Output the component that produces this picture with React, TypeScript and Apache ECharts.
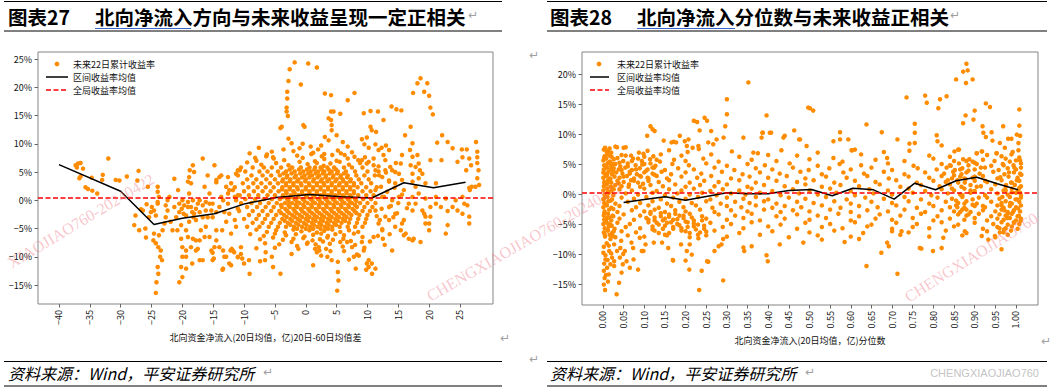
import React, { useEffect, useRef } from "react";
import * as echarts from "echarts";

const FONT = '"Noto Sans CJK SC", "Noto Sans", sans-serif';
const MINUS = "\u2212";

// ---------------- 图表27 ----------------
const leftTitleNo = "图表27";
const leftTitle = "北向净流入方向与未来收益呈现一定正相关";
const leftXName = "北向资金净流入(20日均值，亿)20日-60日均值差";
const leftXTicks = [-40, -35, -30, -25, -20, -15, -10, -5, 0, 5, 10, 15, 20, 25];
const leftYTicks = [-15, -10, -5, 0, 5, 10, 15, 20, 25];
const leftMeanX = [-40, -30, -24.6, -20, -14.8, -9.8, -4.8, 0.6, 5.8, 10.7, 15.9, 20.7, 25.9];
const leftMeanY = [6.3, 1.6, -4.3, -3.2, -2.4, -0.6, 0.5, 1.0, 0.6, 0.4, 3.1, 2.2, 3.2];
const leftGlobalMean = 0.4;

// sparse points, far left part
const leftEdgePts = [
  [-37.3, 6.2], [-36.9, 6.5], [-36.5, 6.6], [-36.1, 5.6], [-37.1, 5.8], [-36.7, 3.9], [-36.5, 4.2], [-35.7, 2.3],
  [-35.3, 2.0], [-34.6, 1.7], [-34.7, 4.0], [-33.8, 1.2], [-32.9, 4.5], [-33.0, 3.6], [-32.0, 7.4], [-30.8, 3.6],
  [-30.2, 3.5], [-29.0, 4.2],
  [-27.1, 5.2], [-27.3, 3.5], [-25.6, 2.4], [-24.0, 2.4], [-24.0, 1.5], [-24.0, -0.3], [-26.4, -1.8], [-25.8, -0.7],
  [-22.4, 0.0], [-22.1, 0.6], [-21.3, 3.8], [-20.7, 1.8],
  [-27.8, -4.4], [-27.6, -2.7], [-27.0, -5.3], [-26.7, -1.6], [-26.0, -5.0], [-25.9, -6.6], [-25.4, -3.0], [-25.1, -2.1],
  [-24.95, -1.2], [-24.6, -1.8], [-24.3, -2.7], [-24.0, -0.6], [-23.8, 0.6], [-23.8, -6.2], [-24.3, -7.6], [-23.9, -8.3],
  [-23.5, -8.9], [-23.6, -10.0], [-23.3, -10.6], [-24.0, -11.8], [-23.9, -13.0], [-24.2, -14.5], [-24.3, -16.4], [-23.2, -5.3],
  [-22.9, -4.1], [-22.7, -3.0], [-22.4, -1.8], [-22.7, -0.9], [-21.9, -3.8], [-21.6, -5.3], [-21.3, -1.2], [-21.0, -3.0],
  [-20.8, -5.3], [-20.5, -2.1], [-20.2, -4.4], [-20.2, -6.8], [-20.0, 0.0], [-20.0, -8.3], [-19.7, -0.9], [-19.4, -2.7],
  [-19.4, -5.3], [-19.4, -8.9], [-19.4, -12.1], [-19.1, -1.2], [-18.9, 1.2], [-18.9, 4.1], [-18.8, 5.3], [-18.3, 6.2],
  [-18.1, 5.0], [-18.6, 3.0], [-19.1, 3.3], [-18.3, 0.0], [-18.1, -2.4], [-17.8, -3.5], [-17.8, -7.1], [-17.5, -8.6],
  [-17.2, -10.6], [-17.0, -5.3], [-16.7, -3.0], [-16.7, 7.4], [-16.4, 2.4], [-16.2, -1.8], [-15.9, 4.4], [-15.6, 1.2],
  [-15.6, -6.5], [-15.3, -8.9], [-15.1, -3.0], [-15.1, -10.6], [-14.8, 6.2], [-14.5, 3.6], [-14.0, 4.1], [-13.7, 0.6],
  [-13.55, -5.3], [-13.4, -12.1], [-13.2, -10.0], [-12.9, 2.4], [-12.6, -0.6], [-12.4, -2.4], [-12.1, 3.0], [-12.1, -11.5],
  [-11.8, -8.9], [-11.5, 0.6], [-11.3, 4.7], [-11.0, -10.0], [-10.7, 5.3],
  [-20.5, -0.6], [-20.1, -1.5], [-19.8, -2.4], [-19.1, -0.3], [-18.6, -1.2], [-18.4, -2.1], [-18.2, -3.0], [-18.9, -3.8],
  [-17.8, -1.5], [-17.5, -0.6], [-17.2, 0.0], [-17.2, -2.1], [-16.7, -0.9], [-16.2, -0.3], [-15.6, -0.6], [-15.9, -3.0],
  [-15.3, -1.8], [-15.1, -0.6], [-14.5, -2.1], [-14.0, -1.2], [-13.4, 0.0], [-13.2, -2.1], [-12.6, 1.2], [-12.4, 1.8],
  [-11.8, 1.8], [-11.3, 0.0], [-11.0, -1.5], [-10.7, 0.9], [-16.2, -4.7], [-16.4, -6.5], [-17.2, -7.1], [-17.8, -8.9],
  [-18.6, -8.3], [-19.4, -10.0], [-20.0, -10.0], [-20.2, -11.8], [-20.5, -14.5], [-20.0, -13.6], [-19.1, -6.5], [-18.3, -6.8],
  [-14.5, -5.3], [-14.0, -8.3], [-13.4, -8.9], [-12.9, -10.0], [-12.1, -5.9], [-11.5, -3.5], [-11.3, -4.7], [-12.9, -3.8],
  [-14.8, -8.3], [-14.5, -7.1], [-24.6, -5.9], [-24.7, -7.1],
  [-13.5, -12.3], [-12.2, -8.9], [-11.6, -9.2], [-12.4, -11.2], [-10.5, -8.3], [-10.3, -10.3], [-9.2, -10.6],
  [-16.7, -10.6], [-18.4, -11.2], [-15.1, -9.3], [-14.9, -10.3],
];

// dense core: each row is [y, x1, x2, ...]
const leftCoreRows = [
  [5.8, -10.5, -8.6, -6.8, -5.5, -4.0, -2.2, -0.8, 0.6, 1.5, 2.4, 3.5, 4.6, 6.2, 7.5, 9.2],
  [5.1, -9.8, -7.5, -6.2, -4.5, -3.2, -1.8, -0.4, 0.8, 2.0, 3.0, 4.2, 5.2, 6.5, 8.0, 10.0, 11.8],
  [4.4, -11.0, -8.8, -7.0, -5.6, -4.2, -3.0, -1.6, -0.2, 1.0, 2.2, 3.3, 4.5, 5.7, 6.8, 8.2, 9.5, 11.2],
  [3.7, -9.5, -8.0, -6.4, -5.0, -3.7, -2.5, -1.2, 0.0, 1.3, 2.6, 3.8, 5.0, 6.0, 7.3, 8.6, 10.2],
  [3.0, -10.2, -8.5, -7.2, -5.8, -4.5, -3.2, -2.0, -0.8, 0.5, 1.8, 2.9, 4.2, 5.5, 6.6, 7.8, 9.0, 10.6],
  [2.3, -11.5, -9.3, -7.8, -6.5, -5.2, -3.8, -2.6, -1.4, 0.0, 1.2, 2.4, 3.6, 4.8, 6.0, 7.2, 8.4, 9.8, 11.5],
  [1.6, -10.0, -8.4, -7.0, -5.7, -4.4, -3.2, -2.0, -0.6, 0.6, 1.8, 3.0, 4.2, 5.4, 6.6, 7.8, 9.2, 10.5],
  [0.9, -11.0, -9.2, -7.7, -6.2, -5.0, -3.7, -2.4, -1.2, 0.0, 1.2, 2.4, 3.6, 4.8, 6.0, 7.2, 8.5, 9.8, 11.0],
  [0.2, -9.8, -8.2, -6.8, -5.5, -4.2, -3.0, -1.8, -0.5, 0.8, 2.0, 3.2, 4.4, 5.6, 6.8, 8.0, 9.3, 10.6],
  [-0.5, -10.5, -8.8, -7.4, -6.0, -4.7, -3.4, -2.2, -1.0, 0.3, 1.5, 2.7, 3.9, 5.1, 6.3, 7.5, 8.8, 10.0, 11.3],
  [-1.2, -9.5, -7.9, -6.5, -5.2, -3.9, -2.6, -1.4, -0.2, 1.0, 2.2, 3.4, 4.6, 5.8, 7.0, 8.3, 9.5, 10.8],
  [-1.9, -10.8, -8.6, -7.0, -5.6, -4.3, -3.0, -1.8, -0.6, 0.6, 1.8, 3.0, 4.2, 5.4, 6.6, 7.9, 9.2, 10.4],
  [-2.6, -9.2, -7.6, -6.2, -4.8, -3.5, -2.2, -1.0, 0.2, 1.4, 2.6, 3.8, 5.0, 6.2, 7.4, 8.7, 10.0],
  [-3.3, -10.0, -8.0, -6.6, -5.2, -3.8, -2.5, -1.3, 0.0, 1.2, 2.4, 3.6, 4.8, 6.0, 7.2, 8.5, 9.8],
  [-4.0, -8.6, -7.0, -5.6, -4.2, -2.9, -1.6, -0.3, 1.0, 2.2, 3.4, 4.6, 5.8, 7.0, 8.3, 9.6],
  [-4.7, -9.5, -7.5, -6.0, -4.5, -3.2, -1.9, -0.6, 0.7, 1.9, 3.1, 4.3, 5.5, 6.8, 8.0, 9.2],
  [5.45, -2.6, -1.1, 0.2, 1.4, 2.6, 3.7, 4.9],
  [4.75, -3.6, -2.3, -0.9, 0.4, 1.6, 2.8, 3.9, 5.1, 6.2],
  [4.05, -3.1, -1.8, -0.6, 0.6, 1.9, 3.2, 4.4, 5.6, 6.7],
  [3.35, -3.8, -2.6, -1.4, -0.1, 1.2, 2.4, 3.5, 4.8, 6.1, 7.2],
  [2.65, -3.2, -2.0, -0.7, 0.6, 1.8, 3.0, 4.2, 5.4, 6.6, 7.8],
  [1.95, -3.8, -2.6, -1.3, 0.0, 1.2, 2.4, 3.6, 4.8, 6.0, 7.2],
  [1.25, -3.1, -1.8, -0.6, 0.6, 1.8, 3.0, 4.2, 5.4, 6.6, 7.8],
  [0.55, -3.6, -2.4, -1.2, 0.2, 1.4, 2.6, 3.8, 5.0, 6.2, 7.4],
  [-0.15, -2.8, -1.5, -0.2, 1.1, 2.3, 3.5, 4.7, 5.9, 7.1, 8.2],
  [-0.85, -4.0, -2.8, -1.6, -0.4, 0.9, 2.1, 3.3, 4.5, 5.7, 6.9, 8.0],
  [-1.55, -3.3, -2.0, -0.8, 0.4, 1.6, 2.8, 4.0, 5.2, 6.4, 7.6],
  [-2.25, -4.0, -2.7, -1.5, -0.2, 1.0, 2.2, 3.4, 4.6, 5.8, 7.0, 8.2],
  [-2.95, -3.1, -1.8, -0.6, 0.6, 1.8, 3.0, 4.2, 5.4, 6.6],
  [-3.65, -3.4, -2.2, -0.9, 0.4, 1.6, 2.8, 4.0, 5.2, 6.4],
  [-4.35, -2.5, -1.2, 0.1, 1.3, 2.5, 3.7, 4.9],
  [-5.05, -1.4, 0.0, 1.2, 2.4, 3.6],
];

const leftCoreEdgePts = [
  [-8.0, 7.0], [-5.2, 7.4], [-3.5, 7.1], [-0.5, 7.5], [1.5, 6.9], [3.0, 7.3], [5.0, 7.0], [6.8, 7.4], [8.5, 7.1], [10.2, 6.8],
  [-9.5, 6.7], [-7.2, 6.3], [-4.8, 6.6], [-2.8, 6.2], [-1.0, 6.8], [0.3, 6.4], [1.8, 6.6], [2.9, 6.1], [4.0, 6.5], [5.5, 6.8],
  [7.0, 6.3], [8.8, 6.6], [11.0, 6.2],
  [-8.0, -5.2], [-6.3, -5.6], [-4.8, -5.3], [-3.4, -5.7], [-2.0, -5.2], [-0.7, -5.5], [0.6, -5.3], [1.8, -5.7], [3.0, -5.4],
  [4.3, -5.2], [5.6, -5.6], [7.0, -5.3], [8.5, -5.6],
  [-9.0, -6.0], [-6.8, -6.3], [-5.0, -5.9], [-3.2, -6.2], [-1.6, -6.0], [-0.2, -6.4], [1.2, -6.1], [2.5, -5.9], [3.6, -6.3],
  [4.8, -6.0], [6.2, -6.2], [7.8, -5.9],
  [-6.3, 8.1], [-1.4, 7.9], [0.9, 8.2], [2.6, 7.8], [4.3, 8.0], [5.7, 8.3], [7.9, 7.7], [-8.2, 7.5], [9.6, 7.6],
  [-7.4, -6.9], [-5.3, -6.6], [-3.7, -7.0], [-2.0, -6.8], [-0.4, -6.7], [1.1, -7.1], [2.3, -6.9], [3.5, -6.6],
  [4.4, -7.0], [6.1, -6.8], [7.3, -7.2], [9.2, -6.5], [10.4, -7.3],
  [-6.6, -7.6], [-4.3, -7.8], [-2.3, -7.4], [0.3, -7.5], [1.6, -7.8], [2.8, -7.3], [3.9, -7.7], [5.6, -7.4], [8.0, -7.9],
  [-5.0, -8.4], [-1.4, -8.1], [2.1, -8.3], [3.3, -8.6], [6.0, -8.2], [9.5, -8.4],
];

const leftUpperPts = [
  [-1.8, 24.4], [0.4, 24.2], [1.8, 23.5], [-2.6, 23.2], [-2.8, 21.1], [-0.8, 20.5], [-3.0, 19.2], [-3.0, 18.0],
  [-3.1, 16.4], [-3.1, 15.7], [-2.9, 14.9], [-4.1, 12.8], [-2.8, 10.9], [-2.3, 10.1], [-3.6, 9.0], [-0.2, 13.0],
  [-3.9, 13.0], [-0.4, 13.3], [2.5, 9.7], [3.7, 10.6], [3.1, 18.9], [4.1, 18.6], [6.8, 17.7], [7.9, 19.0],
  [4.1, 15.7], [4.5, 15.7], [5.6, 15.3], [3.7, 14.5], [4.1, 14.2], [4.2, 13.3], [4.2, 12.4], [3.1, 11.2],
  [5.0, 11.5], [6.0, 10.3], [6.8, 9.5], [2.0, 9.0], [0.8, 9.5], [-1.0, 9.2], [-5.5, 8.6], [7.5, 8.5],
  [-7.6, 9.3], [-6.4, 7.8], [-5.3, 7.6], [-9.1, 8.3], [1.2, 8.4], [-0.5, 10.0], [-2.0, 8.7], [3.0, 8.2],
  [5.2, 8.8], [6.3, 8.0], [-11.0, 5.3], [-12.6, 4.1], [-13.7, 4.4], [-14.5, 3.2],
];

const leftRightPts = [
  [9.4, 15.4], [10.5, 15.8], [11.7, 15.7], [12.6, 14.2], [13.9, 16.6], [14.7, 16.1], [15.5, 15.9], [10.5, 13.0],
  [11.4, 12.1], [10.7, 12.4], [9.9, 11.1], [9.1, 10.8], [9.5, 9.9], [10.2, 9.3], [11.3, 9.9], [12.3, 9.3],
  [13.0, 9.7], [13.5, 8.9], [12.6, 8.0], [11.8, 8.9], [9.1, 7.1], [9.9, 6.5], [11.0, 7.4], [13.7, 5.9],
  [14.5, 5.0], [15.4, 6.5], [16.1, 11.5], [17.0, 13.0], [17.3, 10.1], [16.9, 8.9], [17.3, 7.7], [18.1, 8.0],
  [18.3, 6.5], [17.8, 5.9], [18.5, 5.3], [17.0, 6.2], [15.6, 8.0], [17.4, 19.0], [18.1, 20.7], [18.6, 21.6],
  [19.2, 19.2], [19.7, 20.7], [20.0, 18.5], [20.2, 16.4], [20.6, 15.2], [22.1, 11.5], [21.3, 10.2], [23.0, 10.3],
  [23.8, 9.2], [25.3, 9.0], [26.1, 9.0], [27.6, 10.3], [27.8, 8.6], [27.8, 7.6], [27.8, 6.6], [28.0, 5.3],
  [27.8, 3.9], [28.1, 2.7], [27.5, 2.4], [26.9, 2.4], [20.2, 7.1], [22.0, 7.1], [24.6, 6.8], [25.4, 7.6],
  [26.5, 7.4], [26.8, 6.2], [26.0, 5.3], [26.5, 2.2], [26.6, 1.8], [25.7, -0.6], [26.2, -0.9], [26.5, -2.9],
  [26.5, -4.1], [25.4, -2.4], [24.6, -1.8], [23.8, -1.2], [23.0, -1.9], [23.0, -4.4], [22.7, -5.9], [21.9, -1.2],
  [21.1, -0.6], [20.2, -1.2], [20.2, -2.9], [20.0, -4.1], [19.4, -2.9], [18.9, -1.8], [17.8, -0.6], [17.3, -1.8],
  [16.7, -0.6], [15.6, -4.1], [15.9, -6.2], [16.7, -6.8], [17.3, -7.1], [17.5, -6.8], [18.6, -7.4], [19.4, -4.1],
  [20.0, -5.3], [19.2, -2.4], [12.8, -7.9], [14.0, -8.9], [15.1, 0.6], [15.9, 1.8], [17.3, 0.6], [18.3, 1.2],
  [19.4, 0.3], [21.1, 0.6], [22.7, 0.3], [24.3, 0.0], [25.4, 0.6], [13.5, -1.2], [14.5, -2.4], [13.5, -3.5],
  [14.5, -4.7], [12.4, -5.3], [12.9, -2.9], [14.0, 0.0], [13.5, 3.3], [14.5, 3.0], [15.6, 3.6], [17.3, 3.3],
  [18.3, 3.9], [17.8, 2.4], [19.4, 3.0], [21.1, 3.0], [12.9, 5.3], [17.3, 4.7], [18.9, 4.7], [11.3, 5.3],
  [12.4, 4.1], [11.3, 1.8], [12.4, 0.6], [11.3, -1.8], [11.8, -4.1], [11.0, -6.5], [10.2, -10.6], [10.7, -11.2],
  [11.3, -12.1], [9.8, -12.3], [8.1, -12.1], [7.8, -10.0], [8.3, -9.6], [9.4, -8.9], [9.1, -7.4], [7.5, -8.3],
  [6.7, -7.4],
  [11.8, 6.0], [12.9, 7.1], [14.0, 5.3], [15.1, 4.7], [13.5, 3.5], [12.2, 2.4], [12.7, 0.6], [13.8, -1.0],
  [14.8, -2.3], [15.9, -3.5], [15.4, -5.3], [16.2, -5.9], [12.0, -3.5], [12.4, -5.1], [11.5, -2.8], [12.3, -1.5],
  [13.2, 1.5], [14.4, 2.2], [15.6, 1.0], [16.4, -1.4], [11.9, 4.4], [13.0, 4.9], [14.6, 6.6], [12.5, -6.8],
  [13.6, -6.0], [11.7, -6.3], [14.2, -3.0], [15.0, -0.5],
];

const leftLowerPts = [
  [5.2, -10.9], [5.2, -12.7], [5.3, -14.2], [5.1, -16.0], [4.2, -10.6], [1.2, -11.5], [1.8, -9.2], [2.2, -8.9],
  [1.5, -8.6], [-4.1, -13.0], [-9.1, -13.0], [-7.4, -10.8], [-5.5, -10.0], [-2.3, -9.5], [-1.2, -8.6], [0.2, -7.7],
  [-6.5, -9.2], [-8.0, -8.5], [-10.5, -9.5], [-10.0, -11.2], [-11.0, -10.1], [-12.0, -8.6], [-5.3, -11.8], [-6.6, -10.6],
  [3.5, -10.0], [4.0, -9.0], [2.5, -9.8], [6.2, -9.0], [7.0, -10.5], [8.6, -9.8], [9.9, -11.2], [10.2, -11.8],
  [10.75, -13.0],
];

// ---------------- 图表28 ----------------
const rightTitleNo = "图表28";
const rightTitle = "北向净流入分位数与未来收益正相关";
const rightXName = "北向资金净流入(20日均值，亿)分位数";
const rightXTicks = [0, 0.05, 0.1, 0.15, 0.2, 0.25, 0.3, 0.35, 0.4, 0.45, 0.5, 0.55, 0.6, 0.65, 0.7, 0.75, 0.8, 0.85, 0.9, 0.95, 1.0];
const rightYTicks = [-15, -10, -5, 0, 5, 10, 15, 20];
const rightMeanX = [0.05, 0.1, 0.15, 0.2, 0.25, 0.3, 0.35, 0.4, 0.45, 0.505, 0.555, 0.605, 0.655, 0.705, 0.755, 0.805, 0.855, 0.905, 0.955, 1.005];
const rightMeanY = [-1.4, -0.9, -0.45, -1.05, -0.4, 0.2, 0.05, 0.05, 0.6, 0.75, -0.3, 0.95, 0.7, -0.85, 1.8, 0.7, 2.2, 2.8, 1.7, 0.7];
const rightGlobalMean = 0.25;

const rightBandPts = [
  [.002, 7.4], [.009, 7.0], [.016, 7.6], [.034, 7.8], [.055, 7.8], [.087, 6.9], [.108, 7.2], [.16, 7.3], [.205, 7.0], [.232, 7.5],
  [.312, 7.1], [.375, 6.8], [.432, 7.3], [.52, 6.9], [.603, 7.3], [.68, 7.0], [.742, 7.2], [.862, 7.4], [.905, 6.8], [.918, 7.1],
  [.953, 6.8], [.973, 7.7], [.992, 7.0], [1.006, 7.3],
  [.004, 6.3], [.012, 6.6], [.021, 6.2], [.045, 6.5], [.068, 6.4], [.098, 6.7], [.122, 6.3], [.14, 6.6], [.19, 6.4], [.262, 6.6],
  [.33, 6.2], [.4, 6.5], [.47, 6.4], [.558, 6.0], [.625, 6.6], [.688, 6.0], [.79, 6.4], [.84, 6.2], [.887, 5.8], [.93, 6.5],
  [.965, 6.3], [.989, 6.6], [1.008, 6.1],
  [.001, 5.6], [.008, 5.9], [.017, 5.4], [.026, 5.8], [.049, 5.5], [.073, 5.9], [.094, 5.5], [.114, 5.8], [.138, 5.4], [.172, 5.7],
  [.2, 5.5], [.243, 5.9], [.28, 5.4], [.36, 5.7], [.42, 5.5], [.5, 5.8], [.58, 5.4], [.66, 5.7], [.73, 5.5], [.8, 5.9],
  [.85, 5.5], [.872, 5.8], [.895, 5.4], [.92, 5.7], [.948, 5.5], [.975, 5.9], [.985, 5.4], [1.01, 5.6],
  [.003, 4.8], [.011, 5.1], [.019, 4.7], [.03, 5.0], [.042, 4.6], [.06, 5.1], [.079, 4.8], [.1, 5.0], [.127, 4.7], [.168, 5.0],
  [.208, 4.8], [.25, 5.1], [.3, 4.7], [.35, 5.0], [.392, 4.8], [.452, 5.1], [.52, 4.7], [.573, 5.0], [.625, 4.8], [.69, 5.1],
  [.752, 4.7], [.82, 5.0], [.842, 4.7], [.862, 5.1], [.885, 4.8], [.905, 5.0], [.94, 4.7], [.968, 5.0], [.994, 4.8], [1.012, 5.1],
  [.002, 4.1], [.01, 4.4], [.018, 4.0], [.026, 4.3], [.038, 4.1], [.054, 4.4], [.07, 4.0], [.089, 4.3], [.108, 4.1], [.124, 4.4],
  [.15, 4.0], [.182, 4.3], [.22, 4.1], [.27, 4.4], [.318, 4.0], [.37, 4.3], [.41, 4.1], [.46, 4.4], [.498, 4.0], [.548, 4.3],
  [.6, 4.1], [.65, 4.4], [.7, 4.0], [.762, 4.3], [.808, 4.1], [.832, 4.4], [.852, 4.0], [.87, 4.3], [.9, 4.1], [.925, 4.4],
  [.958, 4.0], [.98, 4.3], [1.0, 4.1], [1.012, 4.4],
  [.004, 3.4], [.013, 3.7], [.022, 3.3], [.032, 3.6], [.047, 3.4], [.065, 3.7], [.082, 3.3], [.1, 3.6], [.12, 3.4], [.142, 3.7],
  [.165, 3.3], [.2, 3.6], [.238, 3.4], [.288, 3.7], [.338, 3.3], [.38, 3.6], [.428, 3.4], [.478, 3.7], [.53, 3.3], [.582, 3.6],
  [.632, 3.4], [.68, 3.7], [.73, 3.3], [.78, 3.6], [.826, 3.4], [.848, 3.7], [.868, 3.3], [.88, 3.6], [.912, 3.4], [.945, 3.7],
  [.972, 3.3], [.995, 3.6], [1.01, 3.4],
  [.001, 2.7], [.008, 3.0], [.016, 2.6], [.028, 2.9], [.04, 2.7], [.058, 3.0], [.075, 2.6], [.092, 2.9], [.108, 2.7], [.13, 3.0],
  [.155, 2.6], [.19, 2.9], [.228, 2.7], [.262, 3.0], [.31, 2.6], [.355, 2.9], [.4, 2.7], [.445, 3.0], [.49, 2.6], [.54, 2.9],
  [.59, 2.7], [.64, 3.0], [.692, 2.6], [.74, 2.9], [.79, 2.7], [.82, 3.0], [.845, 2.6], [.865, 2.9], [.878, 2.5], [.895, 2.7],
  [.92, 3.0], [.955, 2.6], [.982, 2.9], [1.004, 2.7],
  [.003, 2.0], [.012, 2.3], [.02, 1.9], [.035, 2.2], [.05, 2.0], [.068, 2.3], [.085, 1.9], [.11, 2.2], [.135, 2.0], [.16, 2.3],
  [.21, 1.9], [.245, 2.2], [.28, 2.0], [.33, 2.3], [.37, 1.9], [.42, 2.2], [.47, 2.0], [.51, 2.3], [.56, 1.9], [.61, 2.2],
  [.66, 2.0], [.71, 2.3], [.76, 1.9], [.8, 2.2], [.83, 2.0], [.858, 2.3], [.876, 1.9], [.9, 2.2], [.93, 2.0], [.965, 2.3],
  [.99, 1.9], [1.008, 2.2],
  [.002, 1.3], [.009, 1.6], [.018, 1.2], [.03, 1.5], [.045, 1.3], [.063, 1.6], [.09, 1.2], [.115, 1.5], [.145, 1.3], [.175, 1.6],
  [.2, 1.2], [.235, 1.5], [.27, 1.3], [.3, 1.6], [.35, 1.2], [.39, 1.5], [.44, 1.3], [.49, 1.6], [.53, 1.2], [.575, 1.5],
  [.62, 1.3], [.67, 1.6], [.72, 1.2], [.77, 1.5], [.815, 1.3], [.84, 1.6], [.868, 1.2], [.89, 1.5], [.915, 1.3], [.95, 1.6],
  [.975, 1.2], [.997, 1.5], [1.012, 1.3],
  [.001, 0.6], [.01, 0.9], [.02, 0.5], [.04, 0.8], [.07, 0.6], [.1, 0.9], [.13, 0.5], [.16, 0.8], [.19, 0.6], [.22, 0.9],
  [.26, 0.5], [.29, 0.8], [.33, 0.6], [.36, 0.9], [.41, 0.5], [.46, 0.8], [.5, 0.6], [.55, 0.9], [.6, 0.5], [.645, 0.8],
  [.69, 0.6], [.74, 0.9], [.78, 0.5], [.82, 0.8], [.85, 0.6], [.875, 0.9], [.9, 0.5], [.94, 0.8], [.97, 0.6], [.99, 0.9],
  [1.005, 0.5],
  [.004, -0.1], [.014, 0.2], [.025, -0.2], [.055, 0.1], [.085, -0.1], [.12, 0.2], [.15, -0.2], [.18, 0.1], [.21, -0.1], [.24, 0.2],
  [.275, -0.2], [.31, 0.1], [.345, -0.1], [.38, 0.2], [.43, -0.2], [.475, 0.1], [.52, -0.1], [.565, 0.2], [.61, -0.2], [.655, 0.1],
  [.7, -0.1], [.75, 0.2], [.795, -0.2], [.835, 0.1], [.865, -0.1], [.89, 0.2], [.925, -0.2], [.955, 0.1], [.98, -0.1], [1.0, 0.2],
  [1.012, -0.2],
  [.002, -0.8], [.011, -0.5], [.022, -0.9], [.045, -0.6], [.075, -0.8], [.105, -0.5], [.14, -0.9], [.17, -0.6], [.2, -0.8], [.23, -0.5],
  [.26, -0.9], [.3, -0.6], [.34, -0.8], [.37, -0.5], [.4, -0.9], [.45, -0.6], [.49, -0.8], [.54, -0.5], [.59, -0.9], [.635, -0.6],
  [.68, -0.8], [.73, -0.5], [.77, -0.9], [.81, -0.6], [.845, -0.8], [.87, -0.5], [.895, -0.9], [.93, -0.6], [.96, -0.8], [.985, -0.5],
  [1.003, -0.9], [1.012, -0.6],
  [.003, -1.5], [.013, -1.2], [.03, -1.6], [.06, -1.3], [.09, -1.5], [.12, -1.2], [.155, -1.6], [.185, -1.3], [.215, -1.5], [.25, -1.2],
  [.285, -1.6], [.32, -1.3], [.355, -1.5], [.39, -1.2], [.42, -1.6], [.47, -1.3], [.51, -1.5], [.56, -1.2], [.6, -1.6], [.65, -1.3],
  [.7, -1.5], [.74, -1.2], [.79, -1.6], [.83, -1.3], [.86, -1.5], [.88, -1.2], [.905, -1.6], [.94, -1.3], [.965, -1.5], [.975, -1.2],
  [.99, -1.6], [1.008, -1.3],
  [.001, -2.2], [.009, -1.9], [.02, -2.3], [.04, -2.0], [.08, -2.2], [.11, -1.9], [.135, -2.3], [.165, -2.0], [.195, -2.2], [.225, -1.9],
  [.265, -2.3], [.3, -2.0], [.335, -2.2], [.37, -1.9], [.41, -2.3], [.44, -2.0], [.48, -2.2], [.53, -1.9], [.575, -2.3], [.62, -2.0],
  [.665, -2.2], [.71, -1.9], [.76, -2.3], [.8, -2.0], [.84, -2.2], [.855, -1.9], [.875, -2.3], [.9, -2.0], [.925, -2.2], [.955, -1.9],
  [.97, -2.3], [.985, -2.0], [1.0, -2.2], [1.012, -1.9],
  [.004, -2.9], [.015, -2.6], [.035, -3.0], [.07, -2.7], [.1, -2.9], [.125, -2.6], [.15, -3.0], [.175, -2.7], [.2, -2.9], [.235, -2.6],
  [.27, -3.0], [.31, -2.7], [.35, -2.9], [.39, -2.6], [.43, -3.0], [.46, -2.7], [.5, -2.9], [.55, -2.6], [.6, -3.0], [.64, -2.7],
  [.69, -2.9], [.73, -2.6], [.78, -3.0], [.82, -2.7], [.85, -2.9], [.87, -2.6], [.89, -3.0], [.92, -2.7], [.95, -2.9], [.965, -2.6],
  [.98, -3.0], [.995, -2.7], [1.01, -2.9],
  [.002, -3.6], [.012, -3.3], [.025, -3.7], [.05, -3.4], [.09, -3.6], [.115, -3.3], [.14, -3.7], [.16, -3.4], [.185, -3.6], [.21, -3.3],
  [.24, -3.7], [.28, -3.4], [.32, -3.6], [.36, -3.3], [.42, -3.7], [.47, -3.4], [.52, -3.6], [.57, -3.3], [.62, -3.7], [.67, -3.4],
  [.72, -3.6], [.77, -3.3], [.81, -3.7], [.86, -3.4], [.88, -3.6], [.91, -3.3], [.94, -3.7], [.96, -3.4], [.975, -3.6], [.99, -3.3],
  [1.004, -3.7],
  [.003, -4.3], [.01, -4.0], [.02, -4.4], [.04, -4.1], [.075, -4.3], [.105, -4.0], [.125, -4.4], [.15, -4.1], [.17, -4.3], [.195, -4.0],
  [.22, -4.4], [.25, -4.1], [.3, -4.3], [.34, -4.0], [.38, -4.4], [.44, -4.1], [.5, -4.3], [.54, -4.0], [.6, -4.4], [.66, -4.1],
  [.7, -4.3], [.75, -4.0], [.8, -4.4], [.84, -4.1], [.875, -4.3], [.9, -4.0], [.93, -4.4], [.955, -4.1], [.97, -4.3], [.985, -4.0],
  [1.0, -4.4], [1.012, -4.1],
  [.001, -5.0], [.008, -4.7], [.018, -5.1], [.035, -4.8], [.065, -5.0], [.11, -4.7], [.135, -5.1], [.155, -4.8], [.18, -5.0], [.205, -4.7],
  [.23, -5.1], [.26, -4.8], [.31, -5.0], [.36, -4.7], [.43, -5.1], [.49, -4.8], [.55, -5.0], [.61, -4.7], [.65, -5.1], [.71, -4.8],
  [.76, -5.0], [.82, -4.7], [.86, -5.1], [.9, -4.8], [.945, -5.0], [.965, -4.7], [.98, -5.1], [.995, -4.8], [1.008, -5.0],
  [.004, -5.7], [.014, -5.4], [.028, -5.8], [.055, -5.5], [.09, -5.7], [.12, -5.4], [.145, -5.8], [.17, -5.5], [.19, -5.7], [.22, -5.4],
  [.245, -5.8], [.29, -5.5], [.34, -5.7], [.4, -5.4], [.47, -5.8], [.53, -5.5], [.58, -5.7], [.64, -5.4], [.7, -5.8], [.75, -5.5],
  [.79, -5.7], [.85, -5.4], [.92, -5.8], [.955, -5.5], [.975, -5.7], [.99, -5.4], [1.004, -5.8],
  [.002, -6.4], [.011, -6.1], [.022, -6.5], [.045, -6.2], [.08, -6.4], [.125, -6.1], [.16, -6.5], [.2, -6.2], [.235, -6.4], [.27, -6.1],
  [.33, -6.5], [.41, -6.2], [.5, -6.4], [.56, -6.1], [.63, -6.5], [.7, -6.2], [.74, -6.4], [.83, -6.1], [.88, -6.5], [.93, -6.2],
  [.97, -6.4], [.988, -6.1],
  [.005, -7.1], [.016, -6.8], [.03, -7.2], [.06, -6.9], [.1, -7.1], [.15, -6.8], [.21, -7.2], [.25, -6.9], [.3, -7.1], [.38, -6.8],
  [.45, -7.2], [.52, -6.9], [.6, -7.1], [.72, -6.8], [.79, -7.1], [.87, -6.9], [.95, -7.2], [.98, -6.8],
];

const rightClusterPts = [
  [.115, -3.0], [.125, -3.9], [.13, -4.8], [.14, -3.2], [.145, -4.4], [.15, -5.3], [.16, -3.8], [.165, -4.7], [.17, -5.8], [.175, -3.3],
  [.18, -4.2], [.185, -5.2], [.19, -6.1], [.195, -3.6], [.2, -4.6], [.205, -5.5], [.21, -6.5], [.215, -3.9], [.22, -4.9], [.225, -5.9],
  [.23, -6.8], [.24, -4.4], [.245, -5.3], [.25, -6.3], [.12, -5.9], [.135, -6.5], [.155, -6.9], [.11, -4.3],
  [.035, 6.0], [.04, 5.2], [.045, 4.0], [.05, 2.9], [.055, 6.4], [.06, 4.6], [.065, 3.4], [.07, 5.5], [.075, 2.2], [.08, 4.1],
  [.085, 5.9], [.09, 3.0], [.095, 4.9], [.1, 6.2], [.105, 3.9], [.11, 2.6], [.115, 5.1], [.12, 4.4], [.125, 3.2], [.13, 5.7],
  [.038, 1.8], [.062, 1.2], [.097, 1.7],
  [.835, 2.3], [.84, 4.8], [.845, 0.9], [.85, 3.1], [.855, -1.1], [.86, 1.9], [.865, 4.1], [.87, -0.2], [.875, 2.6], [.88, -2.6],
  [.885, 3.9], [.89, 0.6], [.895, -1.8], [.9, 2.9], [.905, 1.2], [.91, -0.6], [.915, 4.4], [.92, -2.0], [.865, -3.0], [.875, -1.6],
  [.885, -3.4], [.858, -2.2], [.9, 5.2], [.88, 5.5], [.925, 2.2],
  [.962, 2.8], [.967, -0.5], [.972, -2.7], [.976, 1.5], [.979, -4.0], [.983, 3.6], [.986, -1.5], [.99, 0.3], [.993, -3.0], [.996, 4.4],
  [.999, -0.9], [1.002, 2.3], [1.005, -2.4], [1.008, 1.0], [1.011, -4.5], [1.013, 3.2], [.97, 4.8], [.98, -3.3], [.995, -4.7], [1.0, 5.6],
  [1.01, 0.2], [.988, 1.9], [.975, 0.6], [.965, -1.9], [1.007, -3.6],
  [.005, 7.7], [.012, 7.2], [.02, 6.9], [.003, 6.0], [.015, 5.3], [.007, 4.6], [.024, 3.9], [.01, 3.2], [.018, 2.5], [.004, 1.8],
  [.022, 1.1], [.012, 0.3], [.006, -0.4], [.019, -1.1], [.009, -1.8], [.025, -2.5], [.003, -3.2], [.016, -3.9], [.008, -4.6], [.021, -5.3],
  [.012, -6.0], [.004, -6.7], [.018, -7.5], [.009, -8.2], [.002, -8.8], [.015, -9.5], [.006, -10.2], [.02, -9.9], [.011, -11.0], [.003, -11.6],
  [.007, -13.5], [.012, -14.6], [.005, -16.0], [.014, -8.6], [.001, -9.8], [.024, -7.0], [.027, -12.0], [.016, 6.4], [.025, 5.0], [.001, 3.6],
  [.013, 2.0], [.026, 0.8], [.001, -0.9], [.023, -3.6], [.013, -5.0], [.026, -6.2],
];

const rightUpperPts = [
  [.30, 15.8], [.30, 13.3], [.296, 11.3], [.292, 9.4], [.22, 12.2], [.228, 12.0], [.246, 12.7], [.252, 12.2], [.262, 10.5], [.234, 10.6],
  [.115, 11.3], [.12, 10.8], [.125, 10.5], [.107, 9.7], [.147, 8.9], [.171, 8.7], [.186, 9.7], [.207, 9.1], [.217, 7.7], [.166, 8.6],
  [.177, 8.6], [.203, 8.0], [.198, 8.8], [.231, 8.0], [.255, 8.6], [.275, 9.1], [.267, 8.3], [.34, 9.4], [.384, 9.4], [.387, 10.2],
  [.407, 10.2], [.437, 9.4], [.44, 9.7], [.463, 10.6], [.475, 9.1], [.493, 8.0], [.501, 14.3], [.509, 13.9], [.477, 9.1], [.574, 10.3],
  [.574, 9.1], [.594, 9.1], [.558, 8.8], [.602, 7.3], [.61, 7.4], [.638, 11.6], [.675, 10.3], [.713, 9.1], [.735, 16.1], [.742, 8.4],
  [.755, 11.7], [.755, 10.2], [.755, 8.5], [.78, 16.4], [.784, 15.2], [.812, 14.3], [.816, 15.8], [.832, 16.3], [.808, 9.8], [.81, 8.8],
  [.82, 8.1], [.855, 19.1], [.872, 20.4], [.88, 21.7], [.883, 20.6], [.895, 19.1], [.879, 18.5], [.878, 13.1], [.872, 11.8], [.9, 13.9],
  [.897, 12.4], [.927, 15.1], [.937, 14.5], [.919, 11.3], [.921, 10.2], [.927, 9.5], [.941, 10.3], [.943, 8.9], [.969, 11.3], [.961, 8.5],
  [.981, 9.2], [.989, 9.2], [1.002, 9.9], [1.008, 11.4], [1.008, 14.1], [1.006, 8.5], [1.01, 9.7], [.851, 7.1], [.86, 7.4], [.352, 18.6],
  [.396, 13.1], [.404, 10.2], [.386, 10.2], [.497, 14.4], [.03, 7.9], [.05, 7.7], [.364, 6.9], [.905, 6.8], [.917, 7.1], [.953, 6.8],
];

const rightLowerPts = [
  [.033, -16.7], [.039, -14.8], [.045, -13.1], [.048, -11.7], [.041, -10.6], [.049, -10.0], [.053, -9.5], [.057, -11.2], [.065, -12.3], [.073, -9.0],
  [.069, -8.1], [.089, -7.3], [.094, -9.5], [.158, -9.0], [.17, -11.1], [.2, -11.1], [.203, -9.5], [.209, -12.6], [.233, -16.0], [.239, -12.8],
  [.255, -11.3], [.21, -8.4], [.231, -7.4], [.291, -14.4], [.287, -8.4], [.291, -7.5], [.34, -8.9], [.342, -9.5], [.36, -8.7], [.396, -10.2],
  [.399, -11.2], [.428, -8.4], [.485, -8.1], [.002, -15.1], [.004, -14.0], [.014, -13.4], [.002, -12.8], [.010, -12.3], [.018, -11.7], [.006, -10.9],
  [.022, -10.6], [.027, -11.2], [.034, -9.5], [.027, -8.4], [.042, -9.0], [.044, -7.8], [.074, -10.9], [.085, -12.6], [.098, -9.5], [.103, -8.4],
  [.123, -8.1], [.143, -8.1], [.169, -11.0], [.189, -8.4], [.215, -10.1], [.252, -11.2], [.27, -9.5], [.28, -8.7], [.638, -12.0], [.674, -9.8],
  [.688, -8.1], [.692, -8.7], [.713, -13.3], [.723, -6.2], [.767, -9.0], [.771, -9.1], [.799, -9.5], [.82, -9.0], [.824, -7.3], [.876, -6.2],
  [.917, -7.0], [.933, -7.6], [.949, -7.0], [.961, -6.4], [.965, -9.2], [.960, -5.7], [.971, -5.9], [.585, -8.0], [.62, -7.5], [.53, -7.6],
];

const rowsToPoints = (rows: number[][]) => rows.flatMap(([y, ...xs]) => xs.map((x) => [x, y]));

const leftPoints = [
  ...leftEdgePts, ...rowsToPoints(leftCoreRows), ...leftCoreEdgePts, ...leftUpperPts, ...leftRightPts, ...leftLowerPts,
];
const rightPoints = [...rightBandPts, ...rightClusterPts, ...rightUpperPts, ...rightLowerPts];

const seriesNames = ["未来22日累计收益率", "区间收益率均值", "全局收益率均值"];
const sourceText = "资料来源：Wind，平安证券研究所";
const watermarkFull = "CHENGXIAOJIAO760-20240422";
const watermarkTail = "XIAOJIAO760-20240422";
const watermarkHead = "CHENGXIAOJIAO760";
const cornerMark = "CHENGXIAOJIAO760";

const ORANGE = "#FF8C00";

const fmtPct = (v: number) => (v < 0 ? MINUS + Math.abs(v) : String(v)) + "%";
const fmtNum = (v: number) => (v < 0 ? MINUS + Math.abs(v) : String(v));

function axisCommon() {
  return {
    type: "value" as const,
    axisLine: { show: false, onZero: false },
    splitLine: { show: false },
  };
}

const alignLM = { textAlign: "left", textVerticalAlign: "middle", align: "left", verticalAlign: "middle" };

function legendGraphics(dotX: number, lineX1: number, lineX2: number, textX: number) {
  const rows = [64, 77, 90];
  const t = (y: number, text: string) => ({
    type: "text",
    x: textX,
    y,
    style: { text, fontSize: 9, fontFamily: FONT, fill: "#111", ...alignLM },
  });
  return [
    { type: "circle", shape: { cx: dotX, cy: rows[0], r: 2.4 }, style: { fill: ORANGE } },
    t(rows[0], seriesNames[0]),
    { type: "line", shape: { x1: lineX1, y1: rows[1], x2: lineX2, y2: rows[1] }, style: { stroke: "#000", lineWidth: 1.5 } },
    t(rows[1], seriesNames[1]),
    { type: "line", shape: { x1: lineX1, y1: rows[2], x2: lineX2, y2: rows[2] }, style: { stroke: "#FF0000", lineWidth: 1.5, lineDash: [5, 2.5] } },
    t(rows[2], seriesNames[2]),
  ];
}

function paraMark(x: number, y: number) {
  return {
    type: "text",
    x,
    y,
    style: { text: "\u21B5", fontSize: 12, fontFamily: '"DejaVu Sans", sans-serif', fill: "#a0a0a0", ...alignLM },
  };
}

function headerGraphics(x0: number, x1: number, noX: number, titleX: number, underlineEnd: number, markX: number, no: string, title: string) {
  const txt = (x: number, text: string) => ({
    type: "text",
    x,
    y: 16,
    style: { text, fontSize: 19.5, fontWeight: "bold", fontFamily: FONT, fill: "#000", ...alignLM },
  });
  return [
    { type: "line", shape: { x1: x0, y1: 1.5, x2: x1, y2: 1.5 }, style: { stroke: "#000", lineWidth: 1 } },
    { type: "line", shape: { x1: x0, y1: 31, x2: x1, y2: 31 }, style: { stroke: "#000", lineWidth: 1 } },
    txt(noX, no),
    txt(titleX, title),
    { type: "line", shape: { x1: titleX, y1: 28.5, x2: underlineEnd, y2: 28.5 }, style: { stroke: "#3a66cc", lineWidth: 1.2 } },
    paraMark(markX, 15),
  ];
}

function footerGraphics(x0: number, x1: number, textX: number, markX: number) {
  return [
    { type: "line", shape: { x1: x0, y1: 361.5, x2: x1, y2: 361.5 }, style: { stroke: "#000", lineWidth: 1 } },
    { type: "line", shape: { x1: x0, y1: 386, x2: x1, y2: 386 }, style: { stroke: "#000", lineWidth: 1 } },
    {
      type: "text",
      x: textX,
      y: 373,
      style: { text: sourceText, fontSize: 16, fontStyle: "italic", fontFamily: FONT, fill: "#000", ...alignLM },
    },
    paraMark(markX, 372),
  ];
}

function watermarkText(text: string, x: number, y: number, deg: number) {
  return {
    type: "text",
    x,
    y,
    rotation: (deg * Math.PI) / 180,
    silent: true,
    z: 100,
    style: {
      text,
      fontSize: 16,
      fontFamily: '"Liberation Serif", "DejaVu Serif", serif',
      fill: "rgba(238,110,125,0.4)",
      ...alignLM,
    },
  };
}

export default function App() {
  const ref = useRef<HTMLDivElement>(null);

  useEffect(() => {
    if (!ref.current) return;
    const chart = echarts.init(ref.current, undefined, { renderer: "svg" });

    const labelStyle = { fontSize: 9, color: "#111", fontFamily: FONT };
    const tickStyle = { lineStyle: { color: "#666", width: 1 }, length: 3.5 };

    const option: any = {
      animation: false,
      backgroundColor: "#fff",
      grid: [
        { left: 38, top: 52, width: 455, height: 252, show: true, borderColor: "#858585", borderWidth: 1, backgroundColor: "transparent" },
        { left: 582, top: 52, width: 456, height: 253, show: true, borderColor: "#858585", borderWidth: 1, backgroundColor: "transparent" },
      ],
      xAxis: [
        {
          ...axisCommon(),
          gridIndex: 0,
          min: -43.4,
          max: 30.35,
          axisTick: { show: true, customValues: leftXTicks, ...tickStyle },
          axisLabel: { ...labelStyle, customValues: leftXTicks, rotate: 90, margin: 6, formatter: (v: number) => fmtNum(v) },
          name: leftXName,
          nameLocation: "middle",
          nameGap: 25,
          nameTextStyle: { fontSize: 9, color: "#111", fontFamily: FONT },
        },
        {
          ...axisCommon(),
          gridIndex: 1,
          min: -0.0508,
          max: 1.0533,
          axisTick: { show: true, customValues: rightXTicks, ...tickStyle },
          axisLabel: { ...labelStyle, customValues: rightXTicks, rotate: 90, margin: 6, formatter: (v: number) => v.toFixed(2) },
          name: rightXName,
          nameLocation: "middle",
          nameGap: 29,
          nameTextStyle: { fontSize: 9, color: "#111", fontFamily: FONT },
        },
      ],
      yAxis: [
        {
          ...axisCommon(),
          gridIndex: 0,
          min: -18.36,
          max: 26.24,
          axisTick: { show: true, customValues: leftYTicks, ...tickStyle },
          axisLabel: { ...labelStyle, customValues: leftYTicks, margin: 6, formatter: (v: number) => fmtPct(v) },
        },
        {
          ...axisCommon(),
          gridIndex: 1,
          min: -18.5,
          max: 23.67,
          axisTick: { show: true, customValues: rightYTicks, ...tickStyle },
          axisLabel: { ...labelStyle, customValues: rightYTicks, margin: 6, formatter: (v: number) => fmtPct(v) },
        },
      ],
      series: [
        {
          name: seriesNames[0],
          type: "scatter",
          xAxisIndex: 0,
          yAxisIndex: 0,
          data: leftPoints,
          symbolSize: 4.5,
          itemStyle: { color: ORANGE, opacity: 1 },
          silent: true,
          z: 2,
        },
        {
          name: seriesNames[1],
          type: "line",
          xAxisIndex: 0,
          yAxisIndex: 0,
          data: leftMeanX.map((x, i) => [x, leftMeanY[i]]),
          symbol: "none",
          lineStyle: { color: "#000", width: 1.5 },
          silent: true,
          z: 3,
          markLine: {
            silent: true,
            symbol: ["none", "none"],
            label: { show: false },
            lineStyle: { color: "#FF0000", width: 1.5, type: [5, 2.5] },
            data: [{ yAxis: leftGlobalMean }],
          },
        },
        {
          name: seriesNames[0],
          type: "scatter",
          xAxisIndex: 1,
          yAxisIndex: 1,
          data: rightPoints,
          symbolSize: 4.5,
          itemStyle: { color: ORANGE, opacity: 1 },
          silent: true,
          z: 2,
        },
        {
          name: seriesNames[1],
          type: "line",
          xAxisIndex: 1,
          yAxisIndex: 1,
          data: rightMeanX.map((x, i) => [x, rightMeanY[i]]),
          symbol: "none",
          lineStyle: { color: "#000", width: 1.5 },
          silent: true,
          z: 3,
          markLine: {
            silent: true,
            symbol: ["none", "none"],
            label: { show: false },
            lineStyle: { color: "#FF0000", width: 1.5, type: [5, 2.5] },
            data: [{ yAxis: rightGlobalMean }],
          },
        },
      ],
      graphic: {
        elements: [
          ...headerGraphics(4, 502, 8, 95, 191, 468, leftTitleNo, leftTitle),
          ...headerGraphics(547, 1047, 550, 637, 735, 950, rightTitleNo, rightTitle),
          ...legendGraphics(57, 46, 68, 73),
          ...legendGraphics(599, 590, 609, 617),
          ...footerGraphics(4, 502, 8, 263),
          ...footerGraphics(547, 1047, 550, 805),
          paraMark(500, 338),
          paraMark(529, 359),
          paraMark(529, 55),
          paraMark(1041, 341),
          {
            type: "text",
            x: 1039,
            y: 373,
            style: { text: cornerMark, fontSize: 11, fontFamily: '"Liberation Sans", Arial, sans-serif', fill: "#c4c4c4", textAlign: "right", textVerticalAlign: "middle", align: "right", verticalAlign: "middle" },
          },
          watermarkText(watermarkTail, 9, 264, 31),
          watermarkText(watermarkFull, 428, 297, 30),
          watermarkText(watermarkHead, 906, 298, 32),
        ],
      },
    };

    chart.setOption(option);
    return () => chart.dispose();
  }, []);

  return <div ref={ref} style={{ position: "absolute", left: 0, top: 0, width: 1054, height: 390 }} />;
}
